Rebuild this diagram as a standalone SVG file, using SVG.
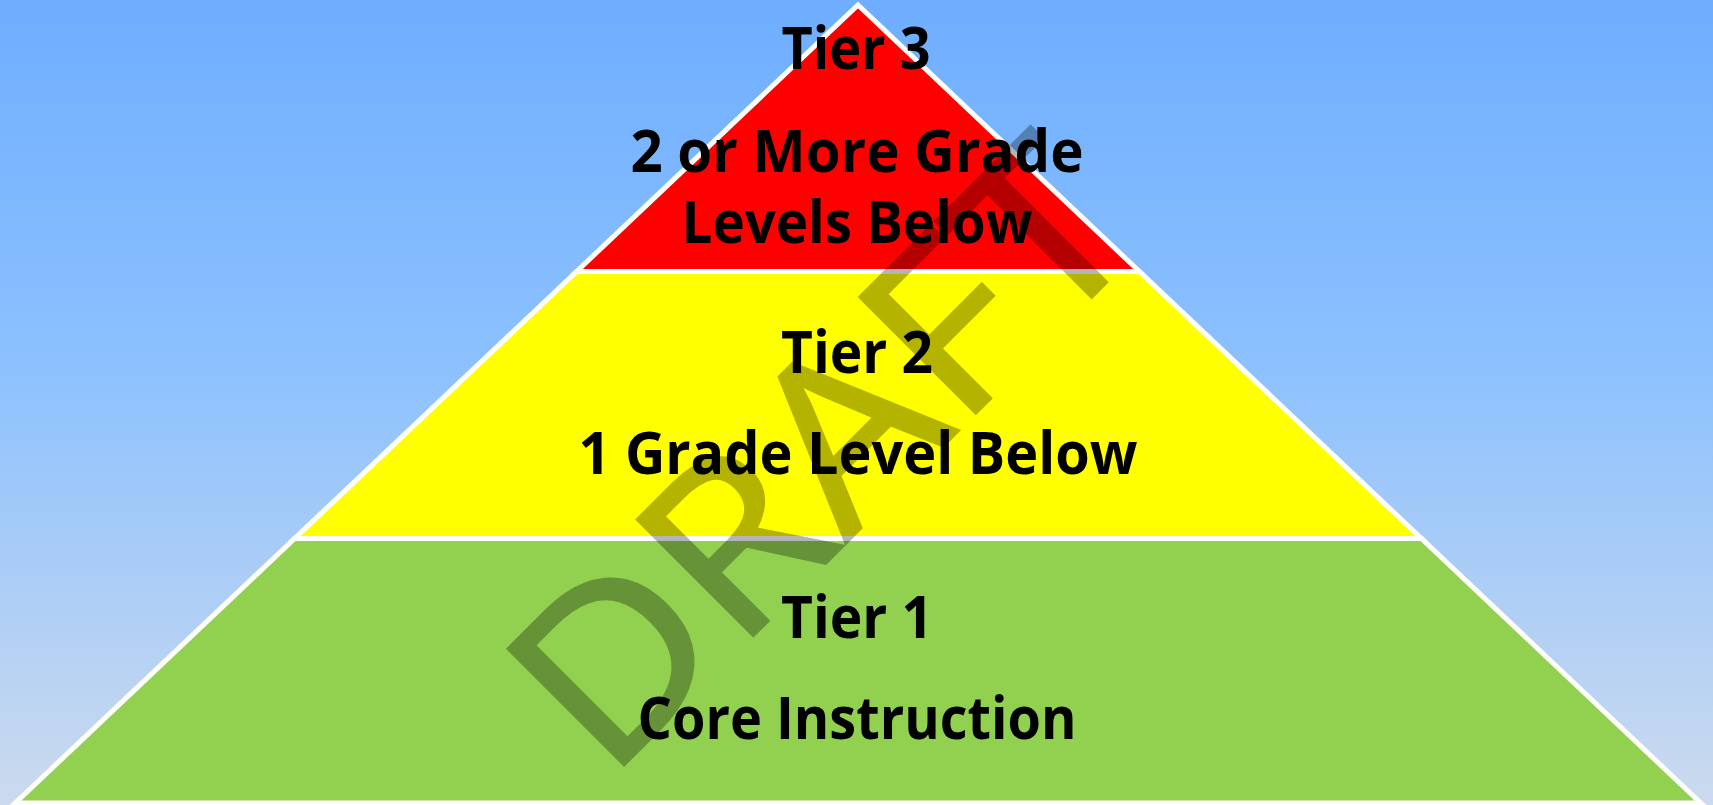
<svg xmlns="http://www.w3.org/2000/svg" width="1713" height="805" viewBox="0 0 1713 805">
  <defs>
    <linearGradient id="bg" x1="0" y1="0" x2="0" y2="1">
      <stop offset="0" stop-color="#6EADFF"/>
      <stop offset="0.45" stop-color="#8CC1FE"/>
      <stop offset="1" stop-color="#CCDAEE"/>
    </linearGradient>
  </defs>
  <style>
    .tier { stroke: #FFFFFF; stroke-width: 5; stroke-linejoin: miter; }
    .lbl { font-family: "Open Sans", "Liberation Sans", sans-serif; font-weight: 700; font-size: 59px; fill: #000000; text-anchor: middle; }
    .wm { font-family: "Open Sans", "Liberation Sans", sans-serif; font-weight: 400; font-size: 230px; fill: #000000; stroke: #000000; stroke-width: 3; opacity: 0.29; }
  </style>
  <rect x="0" y="0" width="1713" height="805" fill="url(#bg)"/>
  <g id="tier1">
    <polygon class="tier" fill="#92D050" points="294.6,538.5 1421.4,538.5 1700.7,803 15.3,803"/>
    <text class="lbl" x="857" y="638" textLength="152" lengthAdjust="spacingAndGlyphs">Tier 1</text>
    <text class="lbl" x="857" y="739" textLength="439" lengthAdjust="spacingAndGlyphs">Core Instruction</text>
  </g>
  <g id="tier2">
    <polygon class="tier" fill="#FFFF00" points="576.6,271.5 1139.4,271.5 1421.4,538.5 294.6,538.5"/>
    <text class="lbl" x="857" y="372.5" textLength="152" lengthAdjust="spacingAndGlyphs">Tier 2</text>
    <text class="lbl" x="858" y="474" textLength="559" lengthAdjust="spacingAndGlyphs">1 Grade Level Below</text>
  </g>
  <g id="tier3">
    <polygon class="tier" fill="#FF0000" points="858,5 1139.4,271.5 576.6,271.5"/>
    <text class="lbl" x="856" y="68.5" textLength="149" lengthAdjust="spacingAndGlyphs">Tier 3</text>
    <text class="lbl" x="857" y="171.5" textLength="453" lengthAdjust="spacingAndGlyphs">2 or More Grade</text>
    <text class="lbl" x="857" y="242.5" textLength="351" lengthAdjust="spacingAndGlyphs">Levels Below</text>
  </g>
  <g id="watermark">
    <text class="wm" transform="translate(606.8,782.2) rotate(-45)" x="0" y="0" textLength="766" lengthAdjust="spacingAndGlyphs">DRAFT</text>
  </g>
</svg>
